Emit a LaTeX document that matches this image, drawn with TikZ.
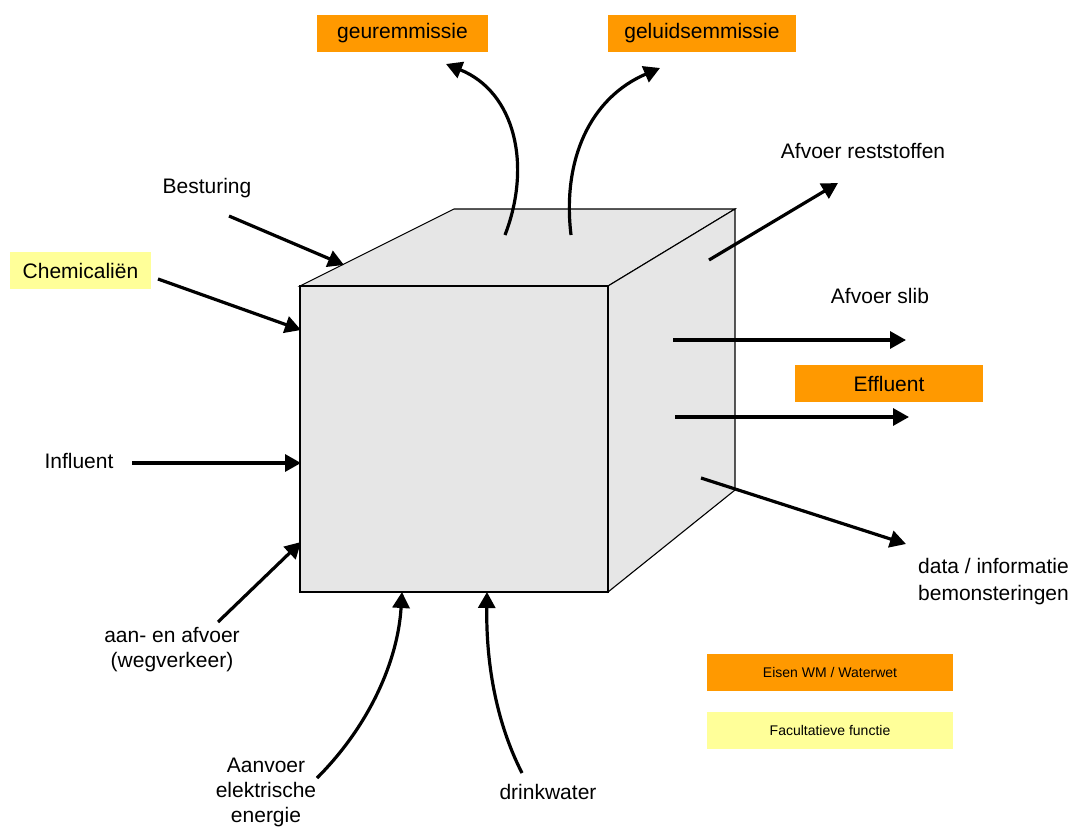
\documentclass[tikz,border=0pt]{standalone}
\usepackage{fontspec}
\setmainfont{Liberation Sans}
\usetikzlibrary{arrows.meta}
\definecolor{eisen}{HTML}{FF9900}
\definecolor{facult}{HTML}{FFFF99}
\definecolor{cubefill}{HTML}{E6E6E6}
\begin{document}
\begin{tikzpicture}[x=1pt,y=-1pt,
  lbl/.style={inner sep=0pt,font=\fontsize{21}{25}\selectfont,align=center},
  boxlbl/.style={lbl,minimum height=37pt},
  legend/.style={inner sep=0pt,font=\fontsize{14}{17}\selectfont,minimum width=246pt,minimum height=37pt},
  flow/.style={line width=3.2pt,-{Triangle[length=16pt,width=17pt]}},
  cubeface/.style={fill=cubefill,draw=black,line width=1.1pt,line join=miter}]
\useasboundingbox (0,0) rectangle (1076,827);
% cube
\coordinate (ftl) at (300,286);
\coordinate (ftr) at (608,286);
\coordinate (fbl) at (300,592);
\coordinate (fbr) at (608,592);
\coordinate (btl) at (454,209);
\coordinate (btr) at (735,209);
\coordinate (bbr) at (735,490);
\draw[cubeface] (ftl) -- (btl) -- (btr) -- (ftr) -- cycle;
\draw[cubeface] (ftr) -- (btr) -- (bbr) -- (fbr) -- cycle;
\draw[cubeface] (ftl) -- (ftr) -- (fbr) -- (fbl) -- cycle;
% labels
\node[boxlbl,fill=eisen,minimum width=171pt] (geur) at (402.5,33.5) {geuremmissie};
\node[boxlbl,fill=eisen,minimum width=188pt] (geluid) at (702,33.5) {geluidsemmissie};
\node[boxlbl,fill=facult,minimum width=141pt] (chem) at (80.5,270.5) {Chemicaliën};
\node[boxlbl,fill=eisen,minimum width=188pt] (effl) at (889,383.5) {Effluent};
\node[lbl] (best) at (207,188) {Besturing};
\node[lbl] (reststof) at (863,151) {Afvoer reststoffen};
\node[lbl] (slib) at (880,296) {Afvoer slib};
\node[lbl] (infl) at (79,461) {Influent};
\node[lbl] (verkeer) at (172,650) {aan- en afvoer\\(wegverkeer)};
\node[lbl] (elek) at (266,792) {Aanvoer\\elektrische\\energie};
\node[lbl] (drink) at (548,792) {drinkwater};
\node[lbl,align=left,anchor=west,font=\fontsize{21}{27}\selectfont] (data) at (918,582) {data / informatie\\bemonsteringen};
\node[legend,fill=eisen] (leg1) at (830,672.5) {Eisen WM / Waterwet};
\node[legend,fill=facult] (leg2) at (830,730.5) {Facultatieve functie};
% connector end points
\coordinate (geurS) at (505,235);
\coordinate (geurT) at (446,64);
\coordinate (geluidS) at (571,235);
\coordinate (geluidT) at (660,68);
\coordinate (bestS) at (229,216);
\coordinate (bestT) at (344,265);
\coordinate (chemS) at (158,279);
\coordinate (chemT) at (301,330);
\coordinate (inflS) at (132,463);
\coordinate (inflT) at (301,463);
\coordinate (verkS) at (218,622);
\coordinate (verkT) at (301,542);
\coordinate (elekS) at (317,778);
\coordinate (elekT) at (402,592);
\coordinate (drinkS) at (522,773);
\coordinate (drinkT) at (487,592);
\coordinate (restS) at (709,260);
\coordinate (restT) at (838,183);
\coordinate (slibS) at (673,340);
\coordinate (slibT) at (906,340);
\coordinate (efflS) at (675,417);
\coordinate (efflT) at (909,417);
\coordinate (dataS) at (701,478);
\coordinate (dataT) at (906,544);
% connectors
\draw[flow] (geurS) .. controls (532,165) and (515,92) .. (geurT);
\draw[flow] (geluidS) .. controls (562,160) and (590,98) .. (geluidT);
\draw[flow] (bestS) -- (bestT);
\draw[flow] (chemS) -- (chemT);
\draw[flow] (inflS) -- (inflT);
\draw[flow] (verkS) -- (verkT);
\draw[flow] (elekS) .. controls (370,725) and (398,660) .. (elekT);
\draw[flow] (drinkS) .. controls (495,720) and (486,660) .. (drinkT);
\draw[flow] (restS) -- (restT);
\draw[flow] (slibS) -- (slibT);
\draw[flow] (efflS) -- (efflT);
\draw[flow] (dataS) -- (dataT);
\end{tikzpicture}
\end{document}
